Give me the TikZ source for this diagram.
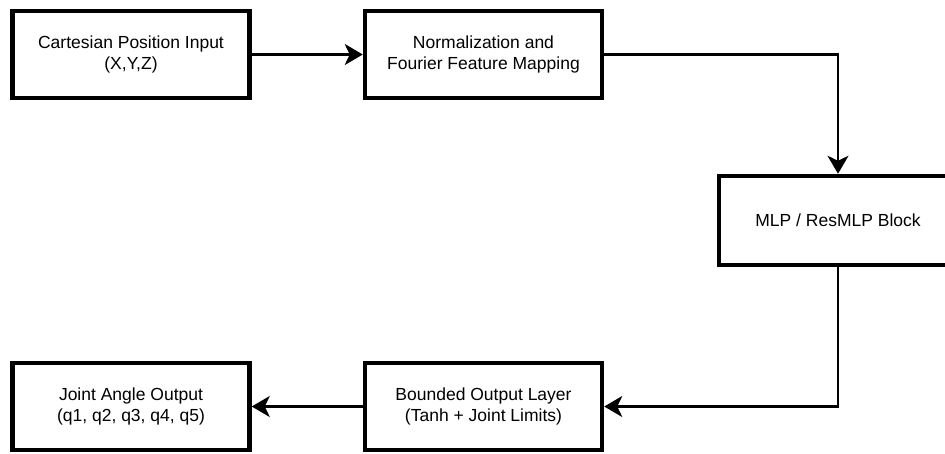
\documentclass[tikz,border=0pt]{standalone}
\usepackage{fontspec}
\setmainfont{Liberation Sans}
\usetikzlibrary{arrows.meta}
\begin{document}
\begin{tikzpicture}[x=1pt,y=-1pt,
  block/.style={draw=black, line width=4.5pt, fill=white, minimum width=237pt, minimum height=87pt,
    inner sep=0pt, align=center, font=\fontsize{17.5}{21}\selectfont},
  conn/.style={draw=black, line width=2.3pt, -{Stealth[length=18pt,width=21pt,inset=5pt]}}]
\useasboundingbox (0,0) rectangle (945,453);
\clip (0,0) rectangle (945,453);
\fill[white] (0,0) rectangle (945,453);
\node[block] (cart) at (131,54.5) {Cartesian Position Input\\(X,Y,Z)};
\node[block] (norm) at (483.5,54.5) {Normalization and\\Fourier Feature Mapping};
\node[block, minimum width=238pt, minimum height=89pt] (mlp) at (838,220.5) {MLP / ResMLP Block};
\node[block] (bound) at (483.5,406.5) {Bounded Output Layer\\(Tanh + Joint Limits)};
\node[block] (joint) at (131,406.5) {Joint Angle Output\\(q1, q2, q3, q4, q5)};
\draw[conn] (cart) -- (norm);
\draw[conn] (norm.east) -| (mlp.north);
\draw[conn] (mlp.south) |- (bound.east);
\draw[conn] (bound) -- (joint);
\end{tikzpicture}
\end{document}
